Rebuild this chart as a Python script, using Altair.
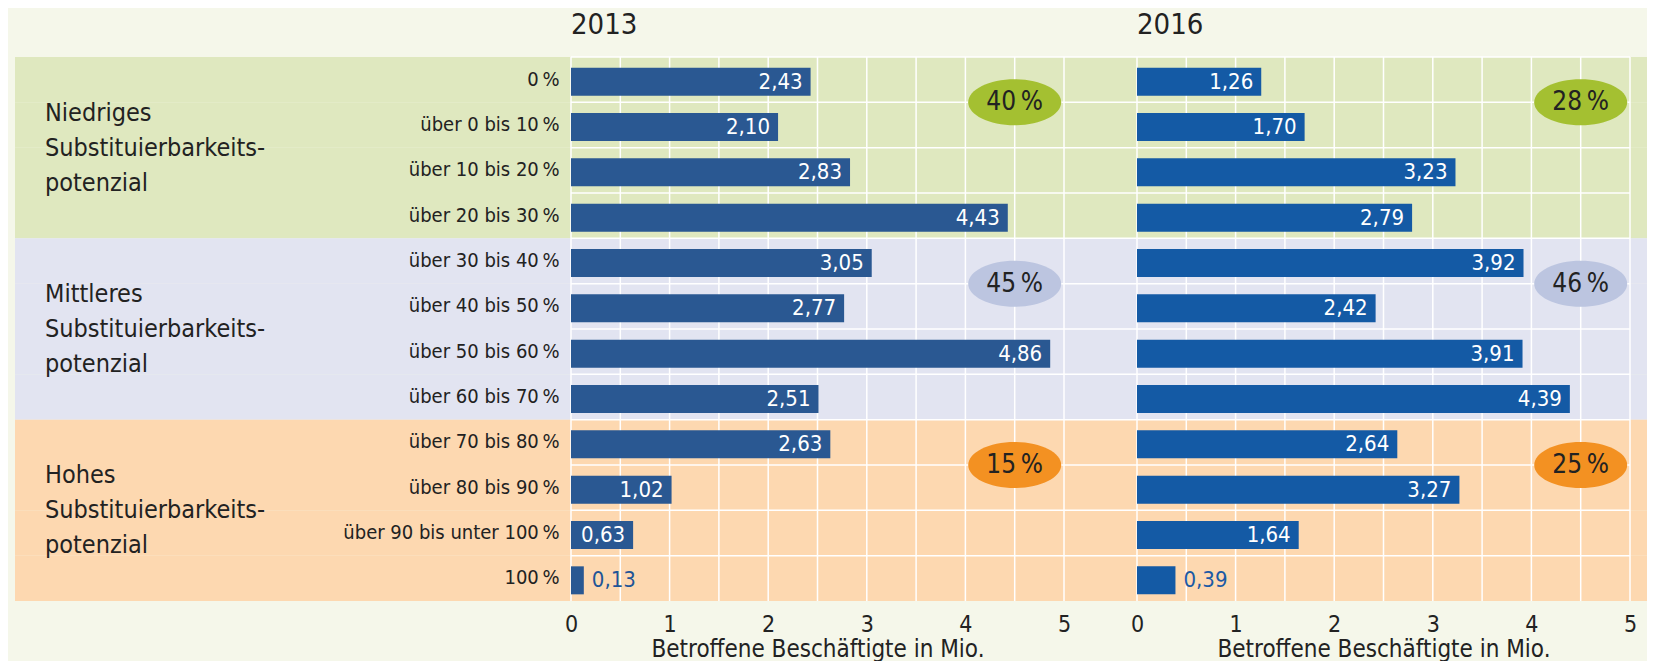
import altair as alt
import pandas as pd

# ---------------- data ----------------
CATEGORIES = [
    "0\u2009%", "über 0 bis 10\u2009%", "über 10 bis 20\u2009%", "über 20 bis 30\u2009%",
    "über 30 bis 40\u2009%", "über 40 bis 50\u2009%", "über 50 bis 60\u2009%", "über 60 bis 70\u2009%",
    "über 70 bis 80\u2009%", "über 80 bis 90\u2009%", "über 90 bis unter 100\u2009%", "100\u2009%",
]
GROUP_NAMES = ["Niedriges", "Mittleres", "Hohes"]
CATEGORY_GROUP = ["Niedriges"] * 4 + ["Mittleres"] * 4 + ["Hohes"] * 4
GROUP_LABELS = [
    "Niedriges\nSubstituierbarkeits-\npotenzial",
    "Mittleres\nSubstituierbarkeits-\npotenzial",
    "Hohes\nSubstituierbarkeits-\npotenzial",
]
VALUES_2013 = [2.43, 2.10, 2.83, 4.43, 3.05, 2.77, 4.86, 2.51, 2.63, 1.02, 0.63, 0.13]
VALUES_2016 = [1.26, 1.70, 3.23, 2.79, 3.92, 2.42, 3.91, 4.39, 2.64, 3.27, 1.64, 0.39]
SHARES_2013 = ["40\u2009%", "45\u2009%", "15\u2009%"]
SHARES_2016 = ["28\u2009%", "46\u2009%", "25\u2009%"]
X_GRID = [0, 0.5, 1, 1.5, 2, 2.5, 3, 3.5, 4, 4.5, 5]
AXIS_TITLE = "Betroffene Beschäftigte in Mio."

# ---------------- style ----------------
FONT = "DejaVu Sans Condensed, DejaVu Sans, sans-serif"
BG = "#F5F7EA"
BAND_COLORS = ["#DFE8BF", "#E2E4F1", "#FDD8B0"]
ELLIPSE_COLORS = ["#A4C031", "#BCC5E0", "#F39122"]
TEXT = "#222222"
ELLIPSE_PATH = "M -1 0 A 1 0.495 0 1 1 1 0 A 1 0.495 0 1 1 -1 0 Z"
UNIT = 98.6
H = 544

band_scale = alt.Scale(domain=GROUP_NAMES, range=BAND_COLORS)
ell_scale = alt.Scale(domain=GROUP_NAMES, range=ELLIPSE_COLORS)
y_scale = alt.Scale(domain=CATEGORIES, paddingInner=0, paddingOuter=0)

cat_df = pd.DataFrame({"cat": CATEGORIES, "group": CATEGORY_GROUP})
grp_df = pd.DataFrame({
    "group": GROUP_NAMES,
    "label": GROUP_LABELS,
    "ell_anchor": [CATEGORIES[4 * i + 1] for i in range(3)],
    "mid_anchor": [CATEGORIES[4 * i + 2] for i in range(3)],
})


def Y(field="cat", axis=None, band_pos=None):
    kw = {}
    if band_pos is not None:
        kw["bandPosition"] = band_pos
    return alt.Y(f"{field}:N", scale=y_scale, axis=axis, **kw)


# ---------------- label panel ----------------
label_bg = alt.Chart(cat_df).mark_rect().encode(
    y=Y(), color=alt.Color("group:N", scale=band_scale, legend=None)
)
label_txt = alt.Chart(grp_df).mark_text(
    align="left", baseline="middle", font=FONT, fontSize=25, color=TEXT,
    lineBreak="\n", lineHeight=35, dy=-35,
).encode(y=Y("mid_anchor", band_pos=0), x=alt.value(30), text="label:N")
label_panel = alt.layer(label_bg, label_txt).properties(width=556, height=H)


def bar_panel(year, values, shares, width, bar_color, out_color, show_y, line_x2):
    xmax = width / UNIT
    x_scale = alt.Scale(domain=[0, xmax], nice=False, zero=False)
    x_axis = alt.Axis(
        values=X_GRID,
        labelExpr="datum.value % 1 == 0 ? format(datum.value, 'd') : ''",
        ticks=False, domain=False, grid=False, labelOverlap=False, labelFlush=False,
        labelFont=FONT, labelFontSize=23, labelColor=TEXT, labelPadding=12,
        title=AXIS_TITLE, titleFont=FONT, titleFontSize=24, titleFontWeight="normal",
        titleColor=TEXT, titlePadding=1, titleX=2.5 * UNIT, titleAlign="center",
    )
    y_axis = None
    if show_y:
        y_axis = alt.Axis(
            orient="left", ticks=False, domain=False, grid=False, title=None,
            labelFont=FONT, labelFontSize=20, labelColor=TEXT, labelPadding=12,
            labelLimit=400,
        )

    def X(field=None, datum=None):
        if datum is not None:
            return alt.X(datum=datum, scale=x_scale, axis=x_axis)
        return alt.X(field, scale=x_scale, axis=x_axis)

    df = cat_df.copy()
    df["v"] = values
    base = alt.Chart(df).transform_calculate(
        lab="replace(format(datum.v, '.2f'), '.', ',')"
    )
    bg = base.mark_rect().encode(
        y=Y(axis=y_axis), color=alt.Color("group:N", scale=band_scale, legend=None)
    )
    if line_x2 is None:
        hlines = base.mark_rule(color="white", strokeWidth=1.5).encode(
            y=Y(axis=y_axis, band_pos=0)
        )
    else:
        hlines = base.mark_rule(color="white", strokeWidth=1.5).encode(
            y=Y(axis=y_axis, band_pos=0), x=X(datum=0), x2=alt.X2(datum=line_x2)
        )
    vlines = alt.Chart(pd.DataFrame({"g": X_GRID})).mark_rule(
        color="white", strokeWidth=1.5
    ).encode(x=X("g:Q"))
    bars = base.mark_bar(color=bar_color, size=28, yOffset=2).encode(
        x=X("v:Q"), y=Y(axis=y_axis)
    )
    inside = base.transform_filter("datum.v >= 0.5").mark_text(
        align="right", baseline="middle", dx=-8, yOffset=2, color="white",
        font=FONT, fontSize=22,
    ).encode(x=X("v:Q"), y=Y(axis=y_axis), text="lab:N")
    outside = base.transform_filter("datum.v < 0.5").mark_text(
        align="left", baseline="middle", dx=8, yOffset=2, color=out_color,
        font=FONT, fontSize=22,
    ).encode(x=X("v:Q"), y=Y(axis=y_axis), text="lab:N")

    gdf = grp_df.copy()
    gdf["share"] = shares
    ell = alt.Chart(gdf).mark_point(
        shape=ELLIPSE_PATH, size=93 * 93, filled=True, opacity=1, strokeWidth=0
    ).encode(
        x=X(datum=4.5), y=Y("ell_anchor", axis=y_axis, band_pos=0),
        fill=alt.Fill("group:N", scale=ell_scale, legend=None),
    )
    ell_txt = alt.Chart(gdf).mark_text(
        align="center", baseline="middle", font=FONT, fontSize=26, color=TEXT,
    ).encode(x=X(datum=4.5), y=Y("ell_anchor", axis=y_axis, band_pos=0), text="share:N")

    title = alt.Chart(pd.DataFrame({"year": [year]})).mark_text(
        align="left", baseline="alphabetic", font=FONT, fontSize=29, color=TEXT,
    ).encode(x=X(datum=0), y=alt.value(-23), text="year:N")

    return alt.layer(bg, hlines, vlines, bars, inside, outside, ell, ell_txt, title).properties(
        width=width, height=H
    )


left = bar_panel("2013", VALUES_2013, SHARES_2013, 566, "#2A5892", "#1F5597", True, None)
right = bar_panel("2016", VALUES_2016, SHARES_2016, 510, "#145AA5", "#1B5AA5", False, 5)

chart = alt.hconcat(label_panel, left, right, spacing=0, bounds="flush").resolve_scale(
    x="independent"
).properties(
    padding={"left": 7, "top": 3, "right": 0, "bottom": 0}, background=BG
).configure_view(strokeWidth=0)

chart.save("out.html", embed_options={"renderer": "svg", "actions": False})
